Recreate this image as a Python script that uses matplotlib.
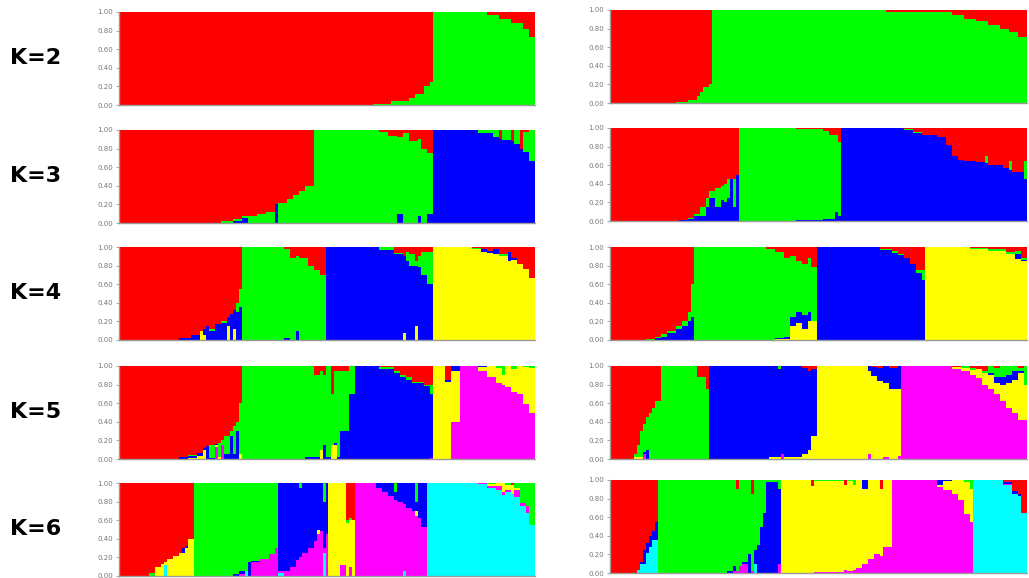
import matplotlib.pyplot as plt
import numpy as np

# cluster colours: red, green, blue, yellow, magenta, cyan
colors = ['#ff0000', '#00ff00', '#0000ff', '#ffff00', '#ff00ff', '#00ffff']
k_labels = ['K=2', 'K=3', 'K=4', 'K=5', 'K=6']
yticks = [0.0, 0.2, 0.4, 0.6, 0.8, 1.0]

# each panel: run lengths (individuals) and membership per cluster
# K=2
l2_n = [85, 6, 6, 2, 3, 2, 1, 18, 4, 4, 4, 2, 2]
l2_q = [[1, 0], [0.99, 0.01], [0.96, 0.04], [0.92, 0.08], [0.88, 0.12], [0.8, 0.2],
        [0.75, 0.25], [0, 1], [0.03, 0.97], [0.08, 0.92], [0.12, 0.88], [0.18, 0.82],
        [0.27, 0.73]]
r2_n = [22, 4, 3, 1, 1, 2, 1, 58, 22, 4, 4, 4, 4, 3, 3, 3]
r2_q = [[1, 0], [0.99, 0.01], [0.97, 0.03], [0.93, 0.07], [0.88, 0.12], [0.83, 0.17],
        [0.8, 0.2], [0, 1], [0.02, 0.98], [0.05, 0.95], [0.1, 0.9], [0.12, 0.88],
        [0.16, 0.84], [0.2, 0.8], [0.24, 0.76], [0.29, 0.71]]

# K=3
l3_n = [34, 4, 3, 2, 3, 3, 3, 1, 3, 2, 2, 2, 3,
        22, 3, 3, 2, 2, 3, 1, 2, 2,
        15, 5, 2, 1, 3, 1, 2, 1, 2, 2]
l3_q = [[1, 0, 0], [0.98, 0.02, 0], [0.96, 0.02, 0.02], [0.92, 0.03, 0.05], [0.92, 0.08, 0],
        [0.9, 0.1, 0], [0.88, 0.12, 0], [0.8, 0, 0.2], [0.78, 0.22, 0], [0.74, 0.26, 0],
        [0.7, 0.3, 0], [0.66, 0.34, 0], [0.6, 0.4, 0],
        [0, 1, 0], [0.02, 0.98, 0], [0.06, 0.94, 0], [0.08, 0.82, 0.1], [0.03, 0.97, 0],
        [0.12, 0.88, 0], [0.1, 0.82, 0.08], [0.2, 0.8, 0], [0.25, 0.65, 0.1],
        [0, 0, 1], [0, 0.03, 0.97], [0, 0.07, 0.93], [0.1, 0, 0.9], [0, 0.11, 0.89],
        [0.12, 0, 0.88], [0, 0.15, 0.85], [0.2, 0, 0.8], [0.02, 0.22, 0.76], [0, 0.33, 0.67]]
r3_n = [23, 3, 2, 2, 2, 1, 2, 2, 1, 1, 1, 1, 1, 1,
        19, 9, 2, 2, 1, 1,
        21, 3, 3, 5, 3, 2, 2, 2, 4, 3, 1, 5, 2, 1, 4, 1]
r3_q = [[1, 0, 0], [0.99, 0, 0.01], [0.97, 0.01, 0.02], [0.93, 0.02, 0.05], [0.85, 0.1, 0.05],
        [0.75, 0.1, 0.15], [0.68, 0.07, 0.25], [0.65, 0.2, 0.15], [0.62, 0.15, 0.23],
        [0.6, 0.2, 0.2], [0.55, 0.2, 0.25], [0.55, 0, 0.45], [0.55, 0.3, 0.15], [0.5, 0, 0.5],
        [0, 1, 0], [0.01, 0.98, 0.01], [0.03, 0.95, 0.02], [0.08, 0.9, 0.02], [0.08, 0.82, 0.1],
        [0.15, 0.8, 0.05],
        [0, 0, 1], [0.01, 0.01, 0.98], [0.04, 0.01, 0.95], [0.07, 0.01, 0.92], [0.1, 0, 0.9],
        [0.18, 0, 0.82], [0.3, 0, 0.7], [0.34, 0, 0.66], [0.36, 0, 0.64], [0.37, 0, 0.63],
        [0.3, 0.08, 0.62], [0.4, 0, 0.6], [0.43, 0, 0.57], [0.35, 0.1, 0.55], [0.47, 0, 0.53],
        [0.35, 0.2, 0.45]]

# K=4
l4_n = [20, 4, 3, 1, 1, 1, 2, 2, 2, 1, 1, 1, 1, 1,
        14, 2, 2, 1, 3, 2, 2, 2,
        18, 5, 3, 1, 1, 2, 1, 1, 2, 2,
        13, 3, 2, 2, 2, 3, 1, 2, 2, 2, 2]
l4_q = [[1, 0, 0, 0], [0.98, 0, 0.02, 0], [0.95, 0, 0.05, 0], [0.9, 0, 0, 0.1],
        [0.88, 0, 0.07, 0.05], [0.85, 0, 0.15, 0], [0.88, 0.02, 0.1, 0], [0.83, 0, 0.17, 0],
        [0.8, 0.02, 0.18, 0], [0.75, 0, 0.1, 0.15], [0.72, 0, 0.28, 0], [0.68, 0, 0.2, 0.12],
        [0.6, 0.1, 0.3, 0], [0.45, 0.2, 0.35, 0],
        [0, 1, 0, 0], [0.02, 0.96, 0.02, 0], [0.12, 0.88, 0, 0], [0.1, 0.8, 0.1, 0],
        [0.12, 0.88, 0, 0], [0.2, 0.8, 0, 0], [0.25, 0.75, 0, 0], [0.3, 0.7, 0, 0],
        [0, 0, 1, 0], [0, 0.03, 0.97, 0], [0.06, 0.02, 0.92, 0], [0.1, 0, 0.83, 0.07],
        [0.05, 0.1, 0.85, 0], [0.08, 0.12, 0.8, 0], [0.15, 0.05, 0.65, 0.15],
        [0.1, 0.12, 0.78, 0], [0.05, 0.25, 0.7, 0], [0.05, 0.35, 0.6, 0],
        [0, 0, 0, 1], [0.01, 0.01, 0, 0.98], [0.02, 0, 0.03, 0.95], [0.04, 0, 0.02, 0.94],
        [0.02, 0, 0.05, 0.93], [0.08, 0.02, 0, 0.9], [0.05, 0, 0.1, 0.85], [0.12, 0, 0.02, 0.86],
        [0.18, 0, 0, 0.82], [0.24, 0, 0, 0.76], [0.33, 0, 0, 0.67]]
r4_n = [12, 3, 2, 2, 3, 2, 2, 1, 1,
        24, 3, 3, 2, 2, 2, 2, 1, 2,
        21, 4, 2, 2, 2, 2, 2, 1,
        15, 6, 6, 3, 2, 2]
r4_q = [[1, 0, 0, 0], [0.99, 0.01, 0, 0], [0.97, 0.01, 0.02, 0], [0.94, 0.03, 0.03, 0],
        [0.9, 0.02, 0.08, 0], [0.85, 0.03, 0.12, 0], [0.8, 0.05, 0.15, 0], [0.7, 0.1, 0.2, 0],
        [0.4, 0.35, 0.25, 0],
        [0, 1, 0, 0], [0.02, 0.98, 0, 0], [0.05, 0.93, 0.01, 0.01], [0.12, 0.85, 0.02, 0.01],
        [0.1, 0.65, 0.1, 0.15], [0.15, 0.55, 0.12, 0.18], [0.18, 0.55, 0.15, 0.12],
        [0.12, 0.58, 0.1, 0.2], [0.22, 0.58, 0, 0.2],
        [0, 0, 1, 0], [0.02, 0.01, 0.97, 0], [0.04, 0.02, 0.94, 0], [0.08, 0.01, 0.91, 0],
        [0.12, 0, 0.88, 0], [0.18, 0, 0.82, 0], [0.25, 0.03, 0.72, 0], [0.25, 0.1, 0.65, 0],
        [0, 0, 0, 1], [0.01, 0.01, 0, 0.98], [0.02, 0.02, 0, 0.96], [0.05, 0.02, 0.01, 0.92],
        [0.04, 0.03, 0.06, 0.87], [0.12, 0.02, 0.01, 0.85]]

# K=5
l5_n = [20, 3, 3, 2, 1, 1, 2, 1, 1, 1, 2, 1, 1, 1, 1,
        21, 3, 2, 1, 1, 2, 1, 1, 1, 3,
        2, 8, 5, 2, 2, 2, 4, 2, 1,
        4, 2, 3,
        6, 3, 3, 2, 1, 2, 2, 2, 2, 2]
l5_q = [[1, 0, 0, 0, 0], [0.98, 0, 0.02, 0, 0], [0.96, 0.01, 0.02, 0.01, 0],
        [0.94, 0, 0.03, 0.03, 0], [0.88, 0, 0.02, 0.1, 0], [0.86, 0, 0.14, 0, 0],
        [0.85, 0.14, 0.01, 0, 0], [0.84, 0, 0.01, 0.02, 0.13], [0.83, 0.15, 0, 0.02, 0],
        [0.8, 0.05, 0, 0, 0.15], [0.75, 0.2, 0.05, 0, 0], [0.7, 0.05, 0.25, 0, 0],
        [0.65, 0.3, 0.05, 0, 0], [0.6, 0.1, 0.3, 0, 0], [0.4, 0.55, 0, 0.05, 0],
        [0, 1, 0, 0, 0], [0, 0.98, 0.02, 0, 0], [0.1, 0.88, 0.02, 0, 0], [0.05, 0.85, 0, 0.1, 0],
        [0.1, 0.75, 0.15, 0, 0], [0, 0.98, 0.02, 0, 0], [0.3, 0.55, 0, 0.15, 0],
        [0.05, 0.78, 0.02, 0.15, 0], [0.05, 0.93, 0.02, 0, 0], [0.05, 0.65, 0.3, 0, 0],
        [0, 0.3, 0.7, 0, 0], [0, 0, 1, 0, 0], [0.01, 0.02, 0.97, 0, 0], [0.05, 0.03, 0.92, 0, 0],
        [0.1, 0.02, 0.88, 0, 0], [0.12, 0.03, 0.85, 0, 0], [0.17, 0.01, 0.82, 0, 0],
        [0.2, 0.02, 0.78, 0, 0], [0.2, 0.1, 0.69, 0, 0.01],
        [0, 0, 0, 1, 0], [0.15, 0, 0.02, 0.83, 0], [0, 0, 0.05, 0.55, 0.4],
        [0, 0, 0, 0, 1], [0, 0, 0.01, 0.04, 0.95], [0, 0, 0, 0.12, 0.88], [0, 0.02, 0, 0.16, 0.82],
        [0, 0.1, 0, 0.1, 0.8], [0, 0, 0, 0.23, 0.77], [0, 0.03, 0, 0.25, 0.72],
        [0, 0, 0, 0.3, 0.7], [0, 0.01, 0, 0.4, 0.59], [0, 0.02, 0, 0.48, 0.5]]
r5_n = [8, 1, 1, 1, 1, 1, 1, 1, 2,
        12, 3, 1,
        20, 3, 1, 1, 6, 2, 1, 2,
        17, 1, 2, 2, 2, 3, 1,
        17, 3, 3, 2, 2, 2, 2, 2, 2, 2, 2, 2, 1]
r5_q = [[1, 0, 0, 0, 0], [0.95, 0.03, 0, 0.02, 0], [0.85, 0.13, 0, 0.02, 0],
        [0.7, 0.28, 0, 0.02, 0], [0.62, 0.3, 0.03, 0, 0.05], [0.55, 0.35, 0.1, 0, 0],
        [0.5, 0.5, 0, 0, 0], [0.45, 0.55, 0, 0, 0], [0.38, 0.62, 0, 0, 0],
        [0, 1, 0, 0, 0], [0.12, 0.88, 0, 0, 0], [0.25, 0.75, 0, 0, 0],
        [0, 0, 1, 0, 0], [0, 0, 0.98, 0.02, 0], [0, 0.03, 0.95, 0.02, 0], [0, 0, 0.95, 0, 0.05],
        [0, 0, 0.98, 0.02, 0], [0.02, 0, 0.93, 0.05, 0], [0.05, 0, 0.85, 0.1, 0],
        [0.03, 0, 0.72, 0.25, 0],
        [0, 0, 0, 1, 0], [0, 0, 0.05, 0.9, 0.05], [0.01, 0, 0.1, 0.89, 0], [0.02, 0, 0.14, 0.84, 0],
        [0, 0, 0.18, 0.8, 0.02], [0.02, 0, 0.23, 0.75, 0], [0, 0, 0.25, 0.72, 0.03],
        [0, 0, 0, 0, 1], [0.01, 0, 0, 0.02, 0.97], [0, 0.02, 0, 0.03, 0.95],
        [0.02, 0.02, 0, 0.06, 0.9], [0.03, 0, 0, 0.1, 0.87], [0.05, 0.03, 0, 0.12, 0.8],
        [0, 0.08, 0.02, 0.15, 0.75], [0.02, 0.1, 0.06, 0.12, 0.7], [0, 0.12, 0.08, 0.18, 0.62],
        [0, 0.1, 0.08, 0.27, 0.55], [0, 0.05, 0.1, 0.35, 0.5], [0.02, 0.03, 0.03, 0.5, 0.42],
        [0, 0.2, 0, 0.38, 0.42]]

# K=6
l6_n = [10, 2, 2, 1, 1, 2, 2, 1, 1, 1, 2,
        13, 2, 2, 1, 1, 3, 3, 2, 1,
        2, 2, 2, 1, 1, 2, 2, 1, 1, 1, 1, 1,
        4, 2, 1, 1, 1,
        7, 2, 2, 2, 1, 2, 1, 2, 1, 1, 1, 2,
        17, 3, 3, 2, 1, 2, 1, 2, 2, 1, 2]
l6_q = [[1, 0, 0, 0, 0, 0], [0.97, 0.03, 0, 0, 0, 0], [0.9, 0, 0, 0.1, 0, 0],
        [0.87, 0, 0, 0.13, 0, 0], [0.85, 0, 0, 0.03, 0, 0.12], [0.82, 0, 0, 0.18, 0, 0],
        [0.78, 0, 0, 0.22, 0, 0], [0.75, 0, 0, 0.25, 0, 0], [0.7, 0, 0.05, 0.25, 0, 0],
        [0.68, 0, 0.02, 0.3, 0, 0], [0.6, 0, 0, 0.4, 0, 0],
        [0, 1, 0, 0, 0, 0], [0, 0.98, 0.02, 0, 0, 0], [0, 0.95, 0.03, 0, 0.02, 0],
        [0, 0.95, 0, 0, 0, 0.05], [0, 0.85, 0.15, 0, 0, 0], [0, 0.84, 0.01, 0, 0.15, 0],
        [0, 0.82, 0, 0, 0.18, 0], [0, 0.76, 0, 0, 0.24, 0], [0, 0.7, 0, 0, 0.3, 0],
        [0, 0, 0.95, 0, 0.02, 0.03], [0, 0, 0.95, 0, 0.05, 0], [0, 0, 0.9, 0, 0.1, 0],
        [0, 0, 0.83, 0, 0.17, 0], [0, 0.05, 0.75, 0, 0.2, 0], [0, 0, 0.75, 0, 0.25, 0],
        [0, 0, 0.7, 0, 0.3, 0], [0, 0, 0.62, 0, 0.38, 0], [0, 0, 0.5, 0.05, 0.45, 0],
        [0, 0, 0.52, 0, 0.48, 0], [0, 0.2, 0.5, 0, 0.05, 0.25], [0, 0, 0.55, 0, 0.45, 0],
        [0, 0, 0, 1, 0, 0], [0, 0, 0, 0.88, 0.12, 0], [0.4, 0.03, 0, 0.57, 0, 0],
        [0.38, 0.02, 0, 0.5, 0.1, 0], [0.4, 0, 0, 0.6, 0, 0],
        [0, 0, 0, 0, 1, 0], [0, 0, 0.05, 0, 0.95, 0], [0, 0, 0.1, 0, 0.9, 0],
        [0, 0, 0.14, 0, 0.86, 0], [0, 0.1, 0.08, 0, 0.82, 0], [0, 0, 0.2, 0, 0.8, 0],
        [0, 0, 0.23, 0, 0.72, 0.05], [0, 0, 0.27, 0, 0.73, 0], [0, 0, 0.3, 0, 0.7, 0],
        [0, 0.2, 0.1, 0.05, 0.65, 0], [0, 0, 0.38, 0, 0.62, 0], [0, 0, 0.47, 0, 0.53, 0],
        [0, 0, 0, 0, 0, 1], [0, 0, 0, 0, 0.01, 0.99], [0, 0.01, 0, 0.02, 0.02, 0.95],
        [0, 0, 0, 0.03, 0.05, 0.92], [0, 0, 0, 0.1, 0.03, 0.87], [0, 0.02, 0, 0.05, 0.03, 0.9],
        [0.02, 0, 0, 0.1, 0, 0.88], [0, 0.05, 0, 0.03, 0.07, 0.85], [0, 0.22, 0, 0, 0.03, 0.75],
        [0, 0.25, 0, 0, 0.07, 0.68], [0, 0.45, 0, 0, 0, 0.55]]
r6_n = [9, 1, 1, 1, 1, 1, 1, 1,
        23, 2, 1, 1, 1, 2, 1, 1, 1, 1, 1,
        1, 4, 1,
        10, 1, 10, 1, 2, 1, 2, 2, 2, 2, 1, 3,
        15, 2, 3, 2, 2, 2, 1,
        10, 3, 2, 1, 2]
r6_q = [[1, 0, 0, 0, 0, 0], [0.97, 0, 0, 0, 0, 0.03], [0.88, 0, 0.02, 0, 0, 0.1],
        [0.75, 0, 0.15, 0, 0, 0.1], [0.68, 0, 0.1, 0, 0, 0.22], [0.6, 0, 0.12, 0, 0, 0.28],
        [0.55, 0, 0.1, 0, 0, 0.35], [0.45, 0, 0.2, 0, 0, 0.35],
        [0, 1, 0, 0, 0, 0], [0, 0.98, 0.02, 0, 0, 0], [0, 0.93, 0.05, 0, 0.02, 0],
        [0.1, 0.88, 0, 0, 0.02, 0], [0, 0.92, 0, 0, 0.08, 0], [0, 0.88, 0.02, 0, 0.1, 0],
        [0, 0.8, 0.2, 0, 0, 0], [0.15, 0.83, 0, 0, 0.02, 0], [0, 0.75, 0.15, 0, 0, 0.1],
        [0, 0.7, 0.3, 0, 0, 0], [0, 0.5, 0.5, 0, 0, 0],
        [0, 0.35, 0.65, 0, 0, 0], [0, 0.02, 0.98, 0, 0, 0], [0, 0.1, 0.8, 0, 0.1, 0],
        [0, 0, 0, 1, 0, 0], [0.06, 0, 0, 0.94, 0, 0], [0, 0.01, 0, 0.98, 0.01, 0],
        [0.05, 0, 0, 0.92, 0.03, 0], [0, 0.01, 0, 0.97, 0.02, 0], [0, 0.05, 0, 0.92, 0.03, 0],
        [0, 0, 0, 0.95, 0.05, 0], [0, 0, 0.1, 0.8, 0.1, 0], [0, 0, 0, 0.85, 0.15, 0],
        [0, 0, 0, 0.8, 0.2, 0], [0.1, 0, 0, 0.72, 0.18, 0], [0, 0, 0, 0.72, 0.28, 0],
        [0, 0, 0, 0, 1, 0], [0, 0, 0.05, 0.03, 0.92, 0], [0, 0, 0.01, 0.1, 0.89, 0],
        [0, 0, 0, 0.15, 0.85, 0], [0, 0, 0, 0.22, 0.78, 0], [0, 0.02, 0, 0.35, 0.63, 0],
        [0, 0.1, 0, 0.35, 0.55, 0],
        [0, 0, 0, 0, 0, 1], [0.02, 0, 0.02, 0, 0.01, 0.95], [0.12, 0, 0.03, 0, 0, 0.85],
        [0.15, 0, 0.02, 0, 0, 0.83], [0.35, 0, 0, 0, 0, 0.65]]

panels = [[(l2_n, l2_q), (r2_n, r2_q)],
          [(l3_n, l3_q), (r3_n, r3_q)],
          [(l4_n, l4_q), (r4_n, r4_q)],
          [(l5_n, l5_q), (r5_n, r5_q)],
          [(l6_n, l6_q), (r6_n, r6_q)]]

W, H = 1029, 578
fig = plt.figure(figsize=(W / 100, H / 100), dpi=100)

# axes placement in pixels (top edge of each row)
left_top = [12, 130, 247, 366, 483]
right_top = [10, 128, 247, 366, 480]
row_h = 93
col_x = [(119, 416), (610, 417)]


def draw(ax, runs, q):
    runs = np.array(runs, dtype=float)
    q = np.array(q, dtype=float)
    q = q / q.sum(axis=1, keepdims=True)
    x = np.concatenate([[0], np.cumsum(runs)[:-1]])
    bottom = np.zeros(len(runs))
    # last cluster at the bottom, first cluster on top
    for c in range(q.shape[1] - 1, -1, -1):
        ax.bar(x, q[:, c], width=runs, bottom=bottom, align='edge',
               color=colors[c], linewidth=0, antialiased=False)
        bottom += q[:, c]
    ax.set_xlim(0, runs.sum())
    ax.set_ylim(0, 1)
    ax.set_yticks(yticks)
    ax.set_yticklabels(['%.2f' % v for v in yticks], fontsize=5, color='#777777')
    ax.set_xticks([])
    ax.tick_params(axis='y', length=2, width=0.6, color='#999999', pad=2)
    for s in ['top', 'right']:
        ax.spines[s].set_visible(False)
    for s in ['left', 'bottom']:
        ax.spines[s].set_color('#9a9a9a')
        ax.spines[s].set_linewidth(1.0)


for r, row in enumerate(panels):
    for c, (runs, q) in enumerate(row):
        top = left_top[r] if c == 0 else right_top[r]
        x0, w = col_x[c]
        ax = fig.add_axes([x0 / W, 1 - (top + row_h) / H, w / W, row_h / H])
        draw(ax, runs, q)
    fig.text(10 / W, 1 - (left_top[r] + 46) / H, k_labels[r], fontsize=16,
             fontweight='bold', va='center', ha='left')

fig.savefig('out.png', dpi=100)
